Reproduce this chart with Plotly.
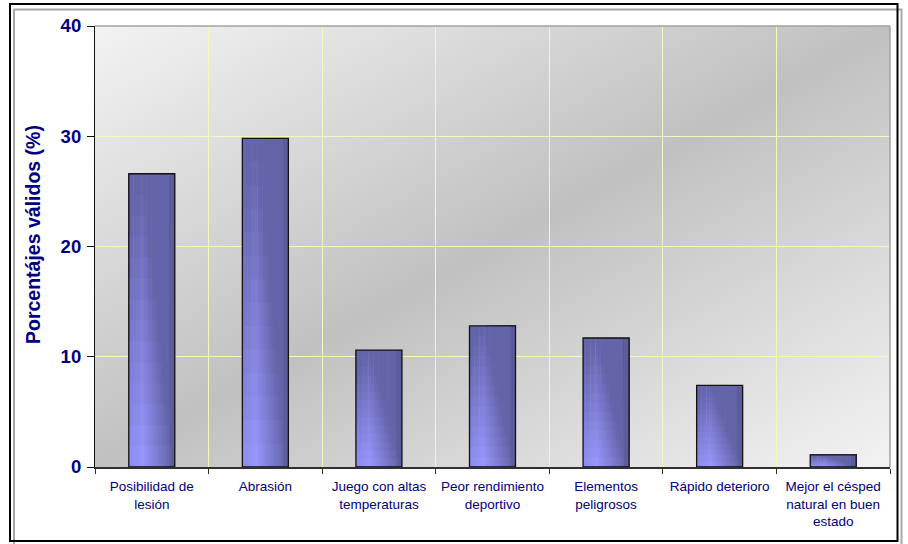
import base64
import struct
import zlib

import numpy as np
import plotly.graph_objects as go

# ---- data -------------------------------------------------------------
categories = [
    "Posibilidad de<br>lesión",
    "Abrasión",
    "Juego con altas<br>temperaturas",
    "Peor rendimiento<br>deportivo",
    "Elementos<br>peligrosos",
    "Rápido deterioro",
    "Mejor el césped<br>natural en buen<br>estado",
]
values = [26.6, 29.8, 10.6, 12.8, 11.7, 7.4, 1.1]
y_ticks = [0, 10, 20, 30, 40]
y_title = "Porcentájes válidos (%)"

# ---- geometry of the plotting area (pixels in a 908x544 page) -----------
W, H = 908, 544
L_M, R_M, T_M, B_M = 95, 18, 26, 77
PW, PH = W - L_M - R_M, H - T_M - B_M


def px_x(p):
    return (p - L_M) / PW


def px_y(p):
    return (H - B_M - p) / PH


NAVY = "#000080"
GRID = "#f6f6bf"
FONT = "Liberation Sans, Arial, sans-serif"


# ---- diagonal grey backdrop encoded as a small PNG ----------------------
def png_uri(rgb):
    h, w, _ = rgb.shape
    raw = b"".join(b"\x00" + rgb[r].tobytes() for r in range(h))

    def chunk(tag, data):
        return (struct.pack(">I", len(data)) + tag + data
                + struct.pack(">I", zlib.crc32(tag + data) & 0xFFFFFFFF))

    png = (b"\x89PNG\r\n\x1a\n"
           + chunk(b"IHDR", struct.pack(">IIBBBBB", w, h, 8, 2, 0, 0, 0))
           + chunk(b"IDAT", zlib.compress(raw, 9))
           + chunk(b"IEND", b""))
    return "data:image/png;base64," + base64.b64encode(png).decode()


gw, gh = 240, 134
u = np.linspace(0, 1, gw)[None, :]
v = np.linspace(0, 1, gh)[:, None]
d = np.abs(u + v - 1.0)
grey = (193 + (243 - 193) * d).round().astype(np.uint8)
backdrop = np.repeat(grey[:, :, None], 3, axis=2)

# ---- bar shading ---------------------------------------------------------
LIGHT = np.array([152, 152, 255])
DARK = np.array([100, 100, 168])


def bar_color(uu, tt):
    w = 1.0 - (tt * 1.0 + max(0.0, uu - 0.3) * 1.5 + max(0.0, 0.3 - uu) * 0.6)
    w = min(1.0, max(0.0, w))
    c = DARK + w * (LIGHT - DARK)
    if uu > 0.9:
        c = c * 0.93
    return "rgb({:.0f},{:.0f},{:.0f})".format(*c)


fig = go.Figure()

# Shading is painted as nested layers: each layer starts further right /
# higher up and runs to the bar's right edge / top, so later layers cover
# the earlier ones without leaving seams.
BW = 0.405
NJ, NK = 18, 14
for j in range(NJ):
    uu = (j + 0.5) / NJ
    for k in range(NK):
        tt = (k + 0.5) / NK
        fig.add_trace(go.Bar(
            x=categories,
            y=[val * (NK - k) / NK for val in values],
            base=[val * k / NK for val in values],
            width=BW * (NJ - j) / NJ,
            offset=-BW / 2 + j * BW / NJ,
            marker=dict(color=bar_color(uu, tt), line=dict(width=0)),
            hoverinfo="skip",
            showlegend=False,
        ))

# outline of each bar
fig.add_trace(go.Bar(
    x=categories,
    y=values,
    width=BW,
    marker=dict(color="rgba(0,0,0,0)", line=dict(color="#111111", width=1.3)),
    showlegend=False,
))

fig.update_layout(
    width=W,
    height=H,
    margin=dict(l=L_M, r=R_M, t=T_M, b=B_M, pad=0),
    barmode="overlay",
    paper_bgcolor="white",
    plot_bgcolor="rgba(0,0,0,0)",
    showlegend=False,
    images=[dict(
        source=png_uri(backdrop), xref="paper", yref="paper",
        x=0, y=1, sizex=1, sizey=1, sizing="stretch",
        xanchor="left", yanchor="top", layer="below",
    )],
)

fig.update_xaxes(
    type="category",
    range=[-0.5, len(categories) - 0.5],
    tickson="boundaries",
    showgrid=True, gridcolor=GRID, gridwidth=1,
    ticks="outside", ticklen=5, tickcolor="#303030", tickwidth=1,
    showline=True, linecolor="#303030", linewidth=1.5,
    zeroline=False,
    tickfont=dict(family=FONT, size=13.5, color=NAVY),
    ticklabelstandoff=6,
    fixedrange=True,
)
fig.update_yaxes(
    range=[0, 40],
    tickvals=y_ticks,
    showgrid=True, gridcolor=GRID, gridwidth=1,
    ticks="outside", ticklen=7, tickcolor="#111111", tickwidth=1,
    showline=True, linecolor="#111111", linewidth=1.2,
    zeroline=False,
    tickfont=dict(family=FONT, size=18.5, color=NAVY, weight="bold"),
    ticklabelstandoff=2,
    fixedrange=True,
)

shapes = [
    # grey top and right edges of the plotting area
    dict(type="line", xref="paper", yref="paper", x0=0, x1=1, y0=1, y1=1,
         line=dict(color="#a2a2a0", width=1.5), layer="above"),
    dict(type="line", xref="paper", yref="paper", x0=1, x1=1, y0=0, y1=1,
         line=dict(color="#a2a2a0", width=1.5), layer="above"),
    # double frame around the whole chart
    dict(type="rect", xref="paper", yref="paper",
         x0=px_x(14), x1=px_x(901.5), y0=px_y(9.5), y1=px_y(548),
         line=dict(color="#a8a8a8", width=2), fillcolor="rgba(0,0,0,0)",
         layer="above"),
    dict(type="rect", xref="paper", yref="paper",
         x0=px_x(10), x1=px_x(897.5), y0=px_y(4), y1=px_y(541),
         line=dict(color="#000000", width=2), fillcolor="rgba(0,0,0,0)",
         layer="above"),
]
fig.update_layout(shapes=shapes)

fig.add_annotation(
    text=y_title, textangle=-90,
    xref="paper", yref="paper", x=px_x(33), y=px_y(235),
    xanchor="center", yanchor="middle", showarrow=False,
    font=dict(family=FONT, size=19.5, color=NAVY, weight="bold"),
)

fig.write_html("out.html")
